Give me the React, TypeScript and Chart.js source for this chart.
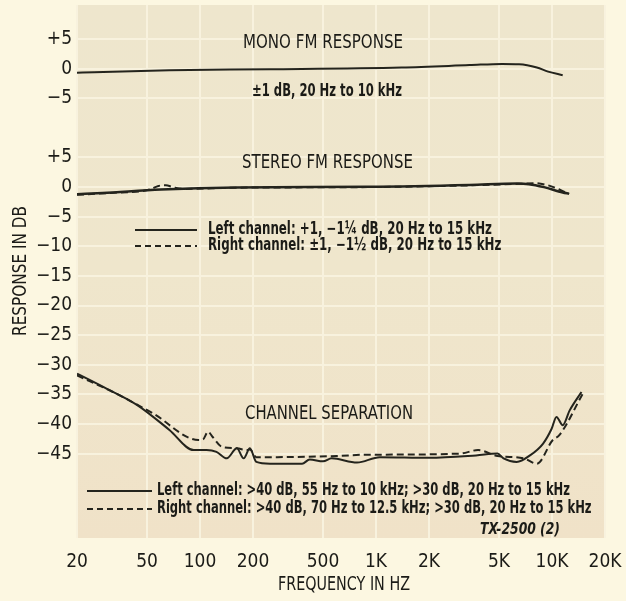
import React, { useEffect, useRef } from "react";
import { Chart, registerables } from "chart.js";

Chart.register(...registerables);

// ---------- axis ticks ----------
const freqTicks = [20, 50, 100, 200, 500, 1000, 2000, 5000, 10000, 20000];
const freqTickLabels = ["20", "50", "100", "200", "500", "1K", "2K", "5K", "10K", "20K"];
// y positions in "stereo dB"; mono panel is drawn offset by MONO_OFFSET
const dbTickValues = [25, 20, 15, 5, 0, -5, -10, -15, -20, -25, -30, -35, -40, -45];
const dbTickLabels = ["+5", "0", "\u22125", "+5", "0", "\u22125", "\u221210", "\u221215", "\u221220", "\u221225", "\u221230", "\u221235", "\u221240", "\u221245"];
const MONO_OFFSET = 20;

// ---------- data ----------
const monoFreq = [20, 25, 67, 250, 1400, 3400, 5200, 6500, 8200, 9500, 11500];
const monoDb = [-0.7, -0.6, -0.25, -0.1, 0.2, 0.6, 0.8, 0.75, 0.2, -0.5, -1.1];

const stereoLeftFreq = [20, 28, 60, 160, 900, 3400, 6300, 7400, 9000, 11500, 12500];
const stereoLeftDb = [-1.2, -1.0, -0.4, -0.05, 0.05, 0.35, 0.6, 0.5, 0.0, -0.9, -1.1];

const stereoRightFreq = [20, 30, 52, 58, 64, 70, 80, 160, 900, 3400, 6500, 8000, 9500, 11000, 12500];
const stereoRightDb = [-1.3, -1.0, -0.4, 0.2, 0.3, 0.0, -0.3, -0.1, 0.0, 0.3, 0.55, 0.65, 0.3, -0.4, -1.2];

const sepLeftFreq = [20, 28, 44, 67, 92, 109, 124, 142, 162, 177, 192, 209, 250, 380, 420, 500, 560, 780, 1050, 2000, 3700, 4900, 5300, 6300, 7500, 8900, 9950, 10600, 11500, 12600, 14700];
const sepLeftDb = [-31.5, -33.7, -36.8, -41.0, -44.4, -44.4, -44.7, -45.8, -44.1, -45.8, -44.1, -46.4, -46.7, -46.7, -46.0, -46.3, -45.8, -46.5, -45.6, -45.7, -45.3, -45.0, -45.8, -46.4, -45.3, -43.3, -40.8, -38.8, -40.2, -37.7, -34.6];

const sepRightFreq = [20, 32, 54, 98, 104, 111, 118, 134, 162, 185, 192, 209, 250, 600, 850, 3000, 3800, 4900, 6900, 8200, 10100, 11000, 15000];
const sepRightDb = [-31.8, -34.6, -38.2, -42.7, -42.6, -41.3, -42.2, -43.9, -44.1, -44.4, -44.3, -45.6, -45.6, -45.4, -45.2, -45.0, -44.4, -45.4, -45.8, -46.7, -42.7, -41.9, -34.8];

const pts = (f: number[], v: number[], off = 0) => f.map((x, i) => ({ x, y: v[i] + off }));

const INK = "#1b1b17";
const LINE = "#24241d";
const NARROW = '"DejaVu Sans Condensed", "Liberation Sans", sans-serif';

const paperPlugin = {
  id: "paper",
  beforeDraw(chart: any) {
    const { ctx, chartArea: ca, width, height } = chart;
    ctx.save();
    ctx.fillStyle = "#fcf7e1";
    ctx.fillRect(0, 0, width, height);
    const g = ctx.createLinearGradient(0, ca.top, 0, ca.bottom);
    g.addColorStop(0, "#eee6cd");
    g.addColorStop(0.5, "#efe6cc");
    g.addColorStop(1, "#f0e2c8");
    ctx.fillStyle = g;
    ctx.fillRect(ca.left, ca.top, ca.right - ca.left, ca.bottom - ca.top);
    ctx.restore();
  },
};

const annotationPlugin = {
  id: "annotations",
  afterDraw(chart: any) {
    const { ctx, chartArea: ca } = chart;
    const L = ca.left;
    const T = ca.top;
    ctx.save();
    ctx.fillStyle = INK;
    ctx.strokeStyle = LINE;
    ctx.textBaseline = "middle";
    ctx.textAlign = "left";

    // horizontal squeeze factor so a text spans a given width (condensed gothic look)
    const squeeze = (s: string, font: string, width: number) => {
      ctx.font = font;
      return width / ctx.measureText(s).width;
    };
    const text = (s: string, x: number, y: number, font: string, k: number, rot = 0, center = false) => {
      ctx.font = font;
      const w = ctx.measureText(s).width;
      ctx.save();
      ctx.translate(x, y);
      if (rot) ctx.rotate(rot);
      ctx.scale(k, 1);
      ctx.fillText(s, center ? -w / 2 : 0, 0);
      ctx.restore();
    };
    const seg = (x1: number, x2: number, dy: number, dashed: boolean) => {
      ctx.beginPath();
      ctx.lineWidth = 2;
      ctx.setLineDash(dashed ? [6, 4] : []);
      ctx.moveTo(L + x1, T + dy);
      ctx.lineTo(L + x2, T + dy);
      ctx.stroke();
      ctx.setLineDash([]);
    };

    const titleFont = `19px ${NARROW}`;
    const noteFont = `bold 17px ${NARROW}`;

    const t1 = "MONO FM RESPONSE";
    text(t1, L + 166, T + 38, titleFont, squeeze(t1, titleFont, 160));
    const n1 = "\u00b11 dB, 20 Hz to 10 kHz";
    text(n1, L + 175, T + 87, noteFont, squeeze(n1, noteFont, 150));

    const t2 = "STEREO FM RESPONSE";
    text(t2, L + 165, T + 158, titleFont, squeeze(t2, titleFont, 171));
    const s1 = "Left channel: +1, \u22121\u00bc dB, 20 Hz to 15 kHz";
    const s2 = "Right channel: \u00b11, \u22121\u00bd dB, 20 Hz to 15 kHz";
    const ks = squeeze(s1, noteFont, 284);
    seg(58, 120, 225, false);
    text(s1, L + 131, T + 225, noteFont, ks);
    seg(58, 120, 241, true);
    text(s2, L + 131, T + 241, noteFont, ks);

    const t3 = "CHANNEL SEPARATION";
    text(t3, L + 168, T + 409, titleFont, squeeze(t3, titleFont, 168));
    const c1 = "Left channel: >40 dB, 55 Hz to 10 kHz; >30 dB, 20 Hz to 15 kHz";
    const c2 = "Right channel: >40 dB, 70 Hz to 12.5 kHz; >30 dB, 20 Hz to 15 kHz";
    const kc = squeeze(c1, noteFont, 413);
    seg(10, 75, 486, false);
    text(c1, L + 80, T + 486, noteFont, kc);
    seg(10, 75, 504, true);
    text(c2, L + 80, T + 504, noteFont, kc);

    const tx = "TX-2500 (2)";
    const txFont = `italic bold 16px ${NARROW}`;
    text(tx, L + 403, T + 525, txFont, squeeze(tx, txFont, 80));

    // axis titles
    const xt = "FREQUENCY IN HZ";
    const axFont = `19px ${NARROW}`;
    text(xt, 344, 585, axFont, squeeze(xt, axFont, 132), 0, true);
    const yt = "RESPONSE IN DB";
    text(yt, 21, 271, axFont, squeeze(yt, axFont, 130), -Math.PI / 2, true);
    ctx.restore();
  },
};

export default function App() {
  const ref = useRef<HTMLCanvasElement | null>(null);

  useEffect(() => {
    if (!ref.current) return;
    const common = {
      borderColor: LINE,
      backgroundColor: LINE,
      pointRadius: 0,
      fill: false,
      cubicInterpolationMode: "monotone" as const,
    };
    const noPad = (s: any) => {
      s.paddingTop = 0;
      s.paddingBottom = 0;
      s.paddingLeft = 0;
      s.paddingRight = 0;
    };
    const chart = new Chart(ref.current, {
      type: "line",
      data: {
        datasets: [
          { ...common, label: "Mono", data: pts(monoFreq, monoDb, MONO_OFFSET), borderWidth: 2 },
          { ...common, label: "Stereo left", data: pts(stereoLeftFreq, stereoLeftDb), borderWidth: 2.5 },
          { ...common, label: "Stereo right", data: pts(stereoRightFreq, stereoRightDb), borderWidth: 2, borderDash: [7, 4] },
          { ...common, label: "Separation left", data: pts(sepLeftFreq, sepLeftDb), borderWidth: 2 },
          { ...common, label: "Separation right", data: pts(sepRightFreq, sepRightDb), borderWidth: 2, borderDash: [7, 4] },
        ],
      },
      options: {
        animation: false,
        responsive: true,
        maintainAspectRatio: false,
        layout: { padding: { top: 5, right: 21, left: 0, bottom: 0 } },
        plugins: { legend: { display: false }, tooltip: { enabled: false } },
        scales: {
          x: {
            type: "logarithmic",
            min: 20,
            max: 20000,
            afterBuildTicks: (s: any) => {
              s.ticks = freqTicks.map((v) => ({ value: v }));
            },
            afterFit: (s: any) => {
              s.height = 63;
              noPad(s);
            },
            ticks: {
              autoSkip: false,
              maxRotation: 0,
              padding: 13,
              color: INK,
              font: { family: NARROW, size: 19 },
              callback: (_v: any, i: number) => freqTickLabels[i],
            },
            grid: { color: "#f8f2de", lineWidth: 2, drawTicks: false },
            border: { display: false },
          },
          y: {
            type: "linear",
            min: -59.25,
            max: 30.75,
            afterBuildTicks: (s: any) => {
              s.ticks = dbTickValues.map((v) => ({ value: v }));
            },
            afterFit: (s: any) => {
              s.width = 77;
              noPad(s);
            },
            ticks: {
              autoSkip: false,
              padding: 5,
              color: INK,
              font: { family: NARROW, size: 19 },
              callback: (_v: any, i: number) => dbTickLabels[i],
            },
            grid: { color: "#f8f2de", lineWidth: 2, drawTicks: false },
            border: { display: false },
          },
        },
      },
      plugins: [paperPlugin, annotationPlugin],
    });
    return () => chart.destroy();
  }, []);

  return (
    <div style={{ position: "fixed", left: 0, top: 0, width: 626, height: 601 }}>
      <canvas ref={ref} />
    </div>
  );
}
